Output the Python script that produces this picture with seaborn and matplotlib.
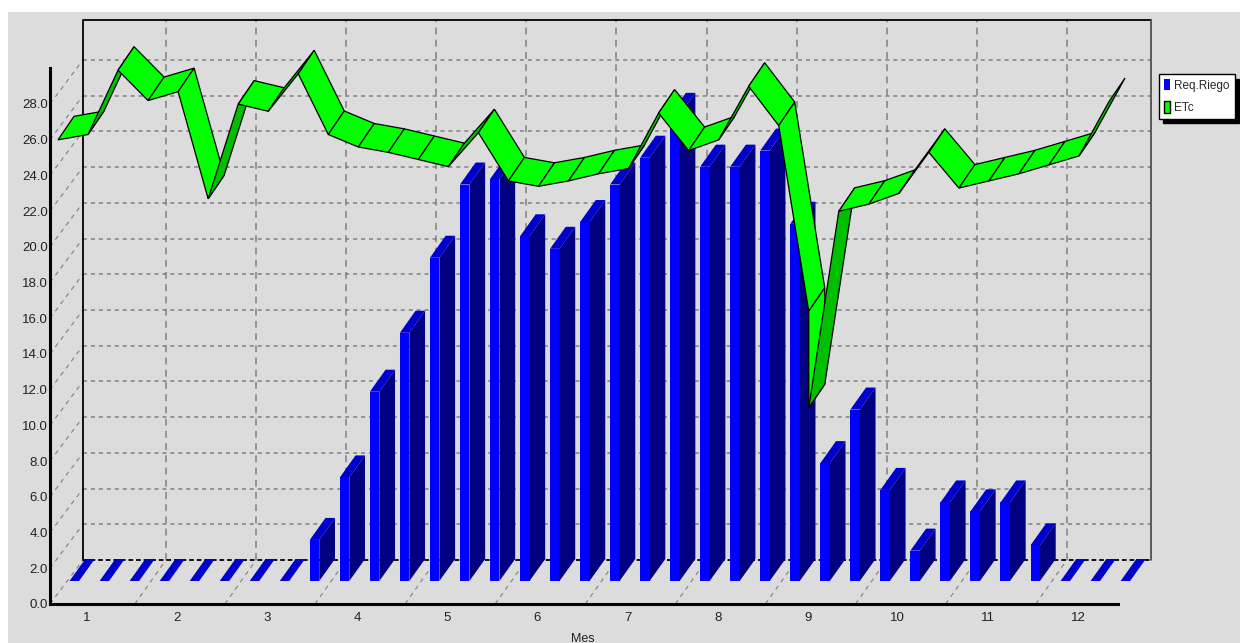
import numpy as np
import pandas as pd
import seaborn as sns
import matplotlib.pyplot as plt
from matplotlib.patches import Patch, Rectangle

# bars: one per ten-day period, 3 per month
req_riego = [0, 0, 0, 0, 0, 0, 0, 0, 2.3, 5.8, 10.6, 13.9, 18.1, 22.2, 22.5, 19.3, 18.6, 20.1,
             22.2, 23.7, 26.1, 23.2, 23.2, 24.1, 20.0, 6.6, 9.6, 5.1, 1.7, 4.4, 3.9, 4.4, 2.0, 0, 0, 0]
# ETc ribbon, period 25 has two values (the ribbon breaks there)
etc_pos = list(range(26)) + [25] + list(range(26, 36))
etc = [24.7, 25.0, 28.6, 26.9, 27.4, 21.4, 26.7, 26.3, 28.4, 25.0, 24.3, 24.0, 23.6, 23.2, 25.1, 22.4, 22.1, 22.4,
       22.8, 23.1, 26.2, 24.1, 24.7, 27.7, 25.5, 15.1, 9.7, 20.7, 21.1, 21.7, 24.0, 22.0, 22.4, 22.8, 23.3, 23.8, 26.85]
months = [str(m) for m in range(1, 13)]
month_ticks = [1 + 3 * i for i in range(12)]
y_ticks = [2 * i for i in range(15)]

# pixel scale of the axes
px_x = 30.03
px_y = 17.86
BLUE, NAVY, MID = "#0000FF", "#000080", "#0000CC"
LIGHT, DARK = "#00FF00", "#00BF00"

sns.set_theme(style="white")
plt.rcParams["font.family"] = ["Liberation Sans", "DejaVu Sans"]

fig = plt.figure(figsize=(12.4, 6.43), dpi=100, facecolor="white")
fig.patches.append(Rectangle((8 / 1240, 0), 1, (643 - 12) / 643, transform=fig.transFigure,
                             facecolor="#DCDCDC", edgecolor="none", figure=fig, zorder=-1))
ax = fig.add_axes([50 / 1240, 39 / 643, 1068 / 1240, 536 / 643])
ax.patch.set_visible(False)

df = pd.DataFrame({"pos": np.arange(len(req_riego)), "value": req_riego})
sns.barplot(data=df, x="pos", y="value", native_scale=True, color=BLUE, saturation=1,
            width=9.5 / px_x, linewidth=0, ax=ax, zorder=4)

x0, x1 = -7 / px_x, 1061 / px_x
y1 = 536 / px_y
ax.set_xlim(x0, x1)
ax.set_ylim(0, y1)

# depth of the box, in data units
wall_dx, wall_dy = 33 / px_x, 44 / px_y
grid = dict(color="#808080", lw=1.1, clip_on=False, zorder=1)
for v in y_ticks[1:]:
    ax.plot([x0 + wall_dx, x1 + wall_dx], [v + wall_dy, v + wall_dy], ls=(0, (2.6, 2.6)), **grid)
for v in y_ticks:
    ax.plot([x0, x0 + wall_dx], [v, v + wall_dy], ls=(0, (4, 4)), lw=0.8, color="#808080", clip_on=False, zorder=1)
for k in range(11):
    xe = 2.59 + 3 * k
    ax.plot([xe + wall_dx - 0.06] * 2, [wall_dy, y1 + wall_dy + 0.2], ls=(0, (4.5, 3.5)), **grid)
    ax.plot([xe, xe + wall_dx - 0.06], [0, wall_dy], ls=(0, (4, 4)), lw=0.8, color="#808080", clip_on=False, zorder=1)

# back wall outline
top = y1 + wall_dy + 0.2
ax.plot([x0 + wall_dx, x0 + wall_dx, x1 + wall_dx], [wall_dy, top, top], color="black", lw=1.3, clip_on=False, zorder=2)
ax.plot([x1 + wall_dx, x1 + wall_dx], [top, wall_dy], color="#505050", lw=1.3, clip_on=False, zorder=2)
ax.plot([x0 + wall_dx, x1 + wall_dx], [wall_dy, wall_dy], color="black", lw=1.3, ls=(0, (2.6, 1.6)), clip_on=False, zorder=2)

# bars: move front face into the box, then add side and top
base = 23 / px_y
bar_shift = 17.3 / px_x
bar_dx, bar_dy = 15.7 / px_x, 22 / px_y
for p in list(ax.patches):
    p.set_x(p.get_x() + bar_shift)
    p.set_y(base)
    p.set_clip_on(False)
    x, w, h = p.get_x(), p.get_width(), p.get_height()
    ax.fill([x + w, x + w + bar_dx, x + w + bar_dx, x + w],
            [base, base + bar_dy, base + h + bar_dy, base + h],
            color=NAVY, lw=0, clip_on=False, zorder=4)
    ax.fill([x, x + w, x + w + bar_dx, x + bar_dx],
            [base + h, base + h, base + h + bar_dy, base + h + bar_dy],
            color=MID, lw=0, clip_on=False, zorder=4)

# ETc ribbon
rib_x = np.array(etc_pos) + 1 / px_x
rib_y = np.array(etc) + base
rib_dx, rib_dy = 16 / px_x, 23.5 / px_y
for i in range(len(rib_x) - 1):
    rising = (rib_y[i + 1] - rib_y[i]) * px_y >= 30
    ax.fill([rib_x[i], rib_x[i + 1], rib_x[i + 1] + rib_dx, rib_x[i] + rib_dx],
            [rib_y[i], rib_y[i + 1], rib_y[i + 1] + rib_dy, rib_y[i] + rib_dy],
            facecolor=DARK if rising else LIGHT, edgecolor="black", lw=0.9, clip_on=False, zorder=5)

ax.set_yticks(y_ticks)
ax.set_yticklabels([f"{v:.1f}" for v in y_ticks])
ax.set_xticks(month_ticks)
ax.set_xticklabels(months)
ax.tick_params(axis="y", length=0, pad=1.5, labelsize=9.5, labelcolor="#222222")
ax.tick_params(axis="x", length=0, pad=6, labelsize=9.5, labelcolor="#222222")
ax.set_xlabel("Mes", fontsize=9, color="#222222", va="top")
ax.xaxis.set_label_coords(0.499, -0.054)
ax.set_ylabel("")
sns.despine(ax=ax)
ax.spines["left"].set_linewidth(2.2)
ax.spines["bottom"].set_linewidth(2.2)
ax.spines["left"].set_color("black")
ax.spines["bottom"].set_color("black")

handles = [Patch(facecolor=BLUE, edgecolor="none", label="Req.Riego"),
           Patch(facecolor=LIGHT, edgecolor="black", label="ETc")]
leg = ax.legend(handles=handles, loc="upper left", bbox_to_anchor=(1159 / 1240, 1 - 74 / 643),
                bbox_transform=fig.transFigure, borderaxespad=0, fontsize=8.5, fancybox=False,
                framealpha=1, edgecolor="black", facecolor="white",
                shadow={"ox": 3, "oy": -3.5, "color": "black", "alpha": 1, "shade": 1},
                handlelength=0.55, handleheight=1.15, handletextpad=0.35, borderpad=0.4, labelspacing=0.8)
leg.get_frame().set_linewidth(1)

fig.savefig("out.png", dpi=100, facecolor=fig.get_facecolor())
